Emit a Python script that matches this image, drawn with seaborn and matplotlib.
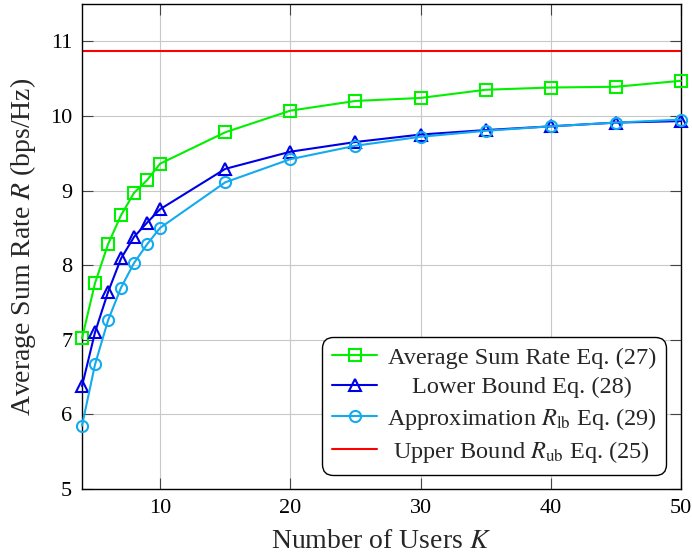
import numpy as np
import pandas as pd
import matplotlib
matplotlib.use("Agg")
import matplotlib.pyplot as plt
from matplotlib.transforms import Affine2D
import seaborn as sns

# Number of users
users = [4, 5, 6, 7, 8, 9, 10, 15, 20, 25, 30, 35, 40, 45, 50]

# Average sum rate, Eq. (27)
avg_rate = [7.02, 7.76, 8.28, 8.67, 8.97, 9.14, 9.36, 9.78,
            10.07, 10.20, 10.24, 10.35, 10.38, 10.39, 10.47]
# Lower bound, Eq. (28)
lower_bound = [6.38, 7.10, 7.64, 8.09, 8.38, 8.57, 8.75, 9.29,
               9.52, 9.65, 9.75, 9.81, 9.86, 9.91, 9.93]
# Approximation R_lb, Eq. (29)
approx_lb = [5.85, 6.67, 7.26, 7.70, 8.03, 8.28, 8.50, 9.11,
             9.42, 9.60, 9.72, 9.80, 9.86, 9.91, 9.95]
# Upper bound R_ub, Eq. (25)
upper_bound = 10.87

labels = [
    "Average Sum Rate Eq. (27)",
    "Lower Bound Eq. (28)",
    r"Approximation $R_{\mathrm{lb}}$ Eq. (29)",
    r"Upper Bound $R_{\mathrm{ub}}$ Eq. (25)",
]

sns.set_theme(style="whitegrid")
plt.rcParams.update({
    "font.family": ["Liberation Serif", "DejaVu Serif"],
    "mathtext.fontset": "stix",
    "axes.edgecolor": "black",
    "axes.linewidth": 1.0,
    "grid.color": "#c8c8c8",
    "grid.linewidth": 0.8,
    "xtick.direction": "in",
    "ytick.direction": "in",
    "xtick.top": True,
    "xtick.bottom": True,
    "ytick.left": True,
    "ytick.right": True,
    "xtick.major.size": 8,
    "ytick.major.size": 8,
    "xtick.major.width": 0.8,
    "ytick.major.width": 0.8,
    "xtick.color": "#444444",
    "ytick.color": "#444444",
    "xtick.labelcolor": "black",
    "ytick.labelcolor": "black",
})

fig = plt.figure(figsize=(6.92, 5.59), dpi=100)
ax = fig.add_axes([0.1185, 0.125, 0.8655, 0.868])

df = pd.DataFrame({"K": users, "avg": avg_rate, "lb": lower_bound, "apx": approx_lb})

sns.lineplot(data=df, x="K", y="avg", ax=ax, color="#00f000", lw=1.5,
             marker="s", markersize=9, markerfacecolor="none",
             markeredgecolor="#00f000", markeredgewidth=1.5,
             label=labels[0], clip_on=False, zorder=4)
sns.lineplot(data=df, x="K", y="lb", ax=ax, color="#0000e6", lw=1.5,
             marker="^", markersize=9, markerfacecolor="none",
             markeredgecolor="#0000e6", markeredgewidth=1.5,
             label=labels[1], clip_on=False, zorder=4)
sns.lineplot(data=df, x="K", y="apx", ax=ax, color="#14aaee", lw=1.5,
             marker="o", markersize=8, markerfacecolor="none",
             markeredgecolor="#14aaee", markeredgewidth=1.5,
             label=labels[2], clip_on=False, zorder=4)
ax.axhline(upper_bound, color="#ff0000", lw=1.5, label=labels[3])

ax.set_xlim(4, 50)
ax.set_ylim(5, 11.5)
ax.set_xticks([10, 20, 30, 40, 50])
ax.set_yticks([5, 6, 7, 8, 9, 10, 11])
ax.tick_params(labelsize=16, pad=7)
ax.grid(True)

ax.set_xlabel("Number of Users $K$", fontsize=20, labelpad=8)
ax.set_ylabel("Average Sum Rate $R$ (bps/Hz)", fontsize=20, labelpad=9)

leg = ax.legend(loc="lower right", fontsize=17.5, frameon=True, fancybox=True,
                edgecolor="black", framealpha=1, handlelength=1.85,
                borderaxespad=0.6, labelspacing=0.3, handletextpad=0.4,
                borderpad=0.4)
leg.get_frame().set_linewidth(1.0)
leg.get_frame().set_boxstyle("round,pad=0,rounding_size=0.45")

# centre the legend texts like the original
fig.canvas.draw()
widths = [t.get_window_extent().width for t in leg.get_texts()]
wmax = max(widths)
for t, w in zip(leg.get_texts(), widths):
    t.set_transform(t.get_transform() + Affine2D().translate((wmax - w) / 2, 0))

fig.savefig("out.png", dpi=100)
